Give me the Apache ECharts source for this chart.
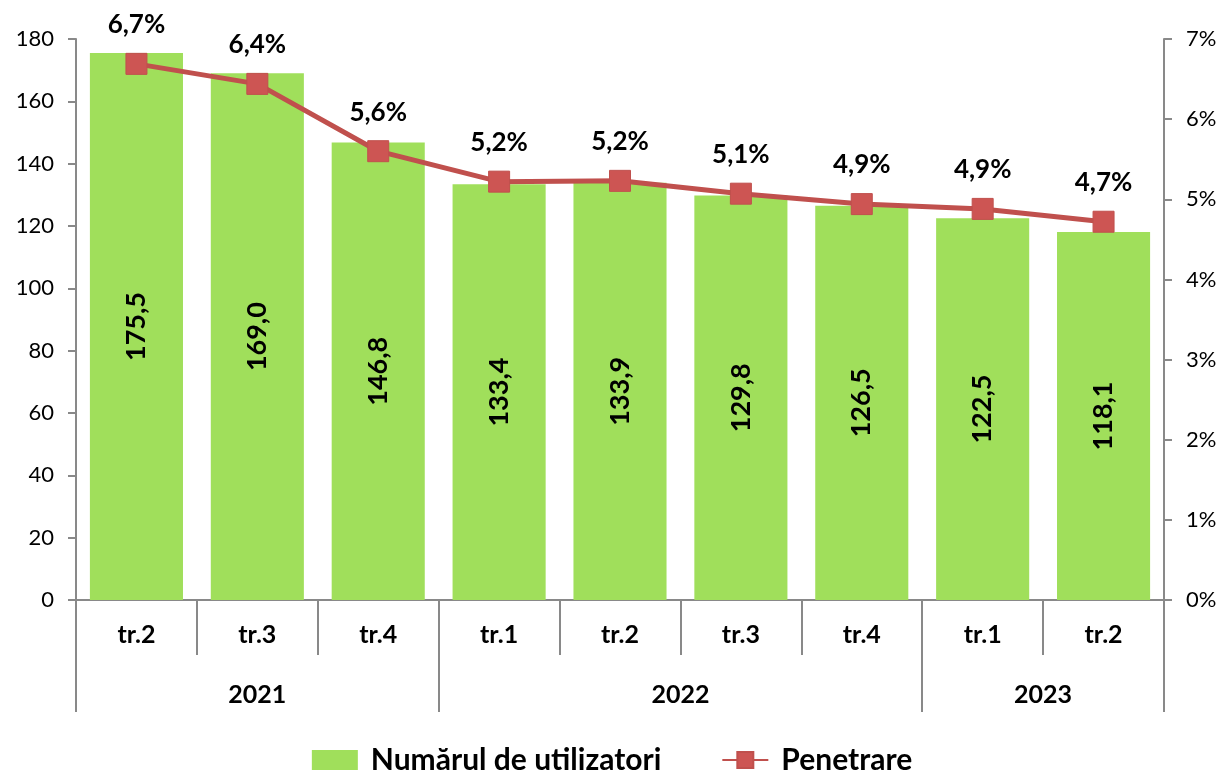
<!DOCTYPE html>
<html>
<head>
<meta charset="utf-8">
<script src="https://cdn.jsdelivr.net/npm/echarts@6/dist/echarts.min.js"></script>
<style>
  html, body { margin: 0; padding: 0; background: #fff; }
  #main { width: 1224px; height: 780px; }
</style>
</head>
<body>
<div id="main"></div>
<script>
var chart = echarts.init(document.getElementById('main'));

var quarters = ['tr.2', 'tr.3', 'tr.4', 'tr.1', 'tr.2', 'tr.3', 'tr.4', 'tr.1', 'tr.2'];
var years = ['2021', '2022', '2023'];
var yearBounds = [0, 3, 7, 9];      // group edges (in category units)
var yearCenters = [1.5, 5, 8];
var users = [175.5, 169.0, 146.8, 133.4, 133.9, 129.8, 126.5, 122.5, 118.1];
var penetration = [6.69, 6.44, 5.60, 5.22, 5.23, 5.07, 4.94, 4.88, 4.72];

var FONT = 'Lato';
var axisGray = '#898989';

function comma(v) { return v.toFixed(1).replace('.', ','); }

var option = {
    textStyle: { fontFamily: FONT },
    animation: false,
    grid: { left: 76, right: 60, top: 39, bottom: 180 },
    legend: {
        bottom: 0,
        left: 'center',
        itemGap: 60,
        itemWidth: 46,
        itemHeight: 20,
        textStyle: { fontSize: 30, fontWeight: 'bold', color: '#000', fontFamily: FONT, padding: [0, 0, 0, 8] },
        data: [
            { name: 'Numărul de utilizatori', icon: 'rect' },
            { name: 'Penetrare' }
        ]
    },
    xAxis: [{
        type: 'category',
        data: quarters,
        position: 'bottom',
        axisLine: { lineStyle: { color: axisGray, width: 2 } },
        axisTick: { show: true, length: 55, alignWithLabel: false, lineStyle: { color: axisGray, width: 2 } },
        axisLabel: { margin: 22, fontSize: 25, fontWeight: 'bold', color: '#000' }
    }, {
        type: 'value',
        min: 0,
        max: 9,
        position: 'bottom',
        axisLine: { show: false },
        splitLine: { show: false },
        axisTick: {
            show: true,
            length: 112,
            customValues: yearBounds,
            lineStyle: { color: axisGray, width: 2 }
        },
        axisLabel: {
            margin: 82,
            fontSize: 25,
            fontWeight: 'bold',
            color: '#000',
            customValues: yearCenters,
            formatter: function (v) { return years[yearCenters.indexOf(v)]; }
        }
    }],
    yAxis: [{
        type: 'value',
        min: 0,
        max: 180,
        interval: 20,
        axisLine: { show: true, lineStyle: { color: axisGray, width: 2 } },
        axisTick: { show: true, length: 8, lineStyle: { color: axisGray, width: 2 } },
        splitLine: { show: false },
        axisLabel: { margin: 22, fontSize: 22, color: '#000' }
    }, {
        type: 'value',
        min: 0,
        max: 7,
        interval: 1,
        position: 'right',
        axisLine: { show: true, lineStyle: { color: axisGray, width: 2 } },
        axisTick: { show: true, length: 8, lineStyle: { color: axisGray, width: 2 } },
        splitLine: { show: false },
        axisLabel: { margin: 22, fontSize: 22, color: '#000', formatter: '{value}%' }
    }],
    series: [{
        name: 'Numărul de utilizatori',
        type: 'bar',
        data: users,
        barCategoryGap: '23%',
        itemStyle: { color: '#a0df5b' },
        label: {
            show: true,
            position: 'inside',
            rotate: 90,
            fontSize: 27,
            fontWeight: 'bold',
            color: '#000',
            formatter: function (p) { return comma(p.value); }
        }
    }, {
        name: 'Penetrare',
        type: 'line',
        yAxisIndex: 1,
        data: penetration,
        symbol: 'rect',
        symbolSize: 21,
        lineStyle: { color: '#c0504d', width: 5 },
        itemStyle: { color: '#cd5553', borderColor: '#c0504d', borderWidth: 1 },
        label: {
            show: true,
            position: 'top',
            distance: 15,
            fontSize: 26,
            fontWeight: 'bold',
            color: '#000',
            formatter: function (p) { return comma(p.value) + '%'; }
        }
    }]
};

chart.setOption(option);
</script>
</body>
</html>
